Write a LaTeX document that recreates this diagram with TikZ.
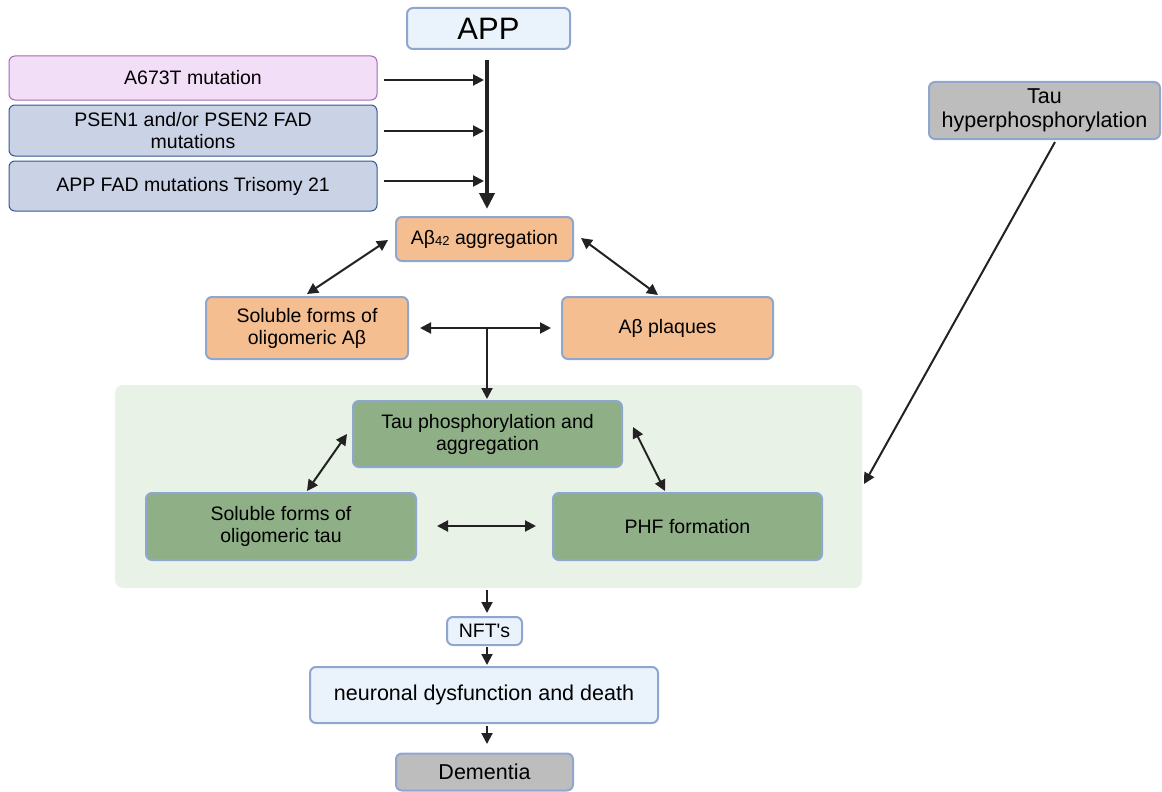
\documentclass[tikz,border=0pt]{standalone}
\usepackage{fontspec}
\setmainfont{Liberation Sans}[Ligatures=TeXOff]
\usetikzlibrary{arrows.meta}
\definecolor{edgeblue}{HTML}{8FA6CF}
\definecolor{appfill}{HTML}{EAF2FB}
\definecolor{pinkfill}{HTML}{F2DFF7}
\definecolor{pinkedge}{HTML}{A569B5}
\definecolor{bluefill}{HTML}{CAD3E6}
\definecolor{bluedge}{HTML}{2F5A8F}
\definecolor{orangefill}{HTML}{F5BE91}
\definecolor{bgreen}{HTML}{E8F2E6}
\definecolor{greenfill}{HTML}{8FB087}
\definecolor{grayfill}{HTML}{BDBDBD}
\definecolor{arr}{HTML}{222222}
\tikzset{
  box/.style={draw=edgeblue, line width=2pt, rounded corners=6pt, align=center, inner sep=0pt, text=black},
  appbox/.style={box, fill=appfill},
  pinkbox/.style={box, fill=pinkfill, draw=pinkedge, line width=1pt},
  bluebox/.style={box, fill=bluefill, draw=bluedge, line width=1pt},
  orbox/.style={box, fill=orangefill},
  grbox/.style={box, fill=greenfill},
  gybox/.style={box, fill=grayfill},
  txt/.style={font=\fontsize{19.5}{22}\selectfont},
  bigtxt/.style={font=\fontsize{21.5}{24}\selectfont},
  con/.style={draw=arr, line width=2pt, -{Triangle[length=11pt,width=11pt]}},
  dcon/.style={draw=arr, line width=2pt, {Triangle[length=11pt,width=11pt]}-{Triangle[length=11pt,width=11pt]}},
  thick arrow/.style={draw=arr, line width=4pt, -{Triangle[length=16pt,width=15pt]}}
}
\begin{document}
\begin{tikzpicture}[x=1pt,y=-1pt]
\useasboundingbox (0,0) rectangle (1162,792);
% background panel
\node[fill=bgreen, rounded corners=8pt, minimum width=747pt, minimum height=203pt, inner sep=0pt] (panel) at (488.5,486.5) {};
% nodes
\node[appbox, minimum width=163pt, minimum height=41pt, font=\fontsize{31}{34}\selectfont] (app) at (488.5,28.5) {APP};
\node[pinkbox, txt, minimum width=368pt, minimum height=44pt] (a673) at (193,78) {A673T mutation};
\node[bluebox, txt, minimum width=368pt, minimum height=51pt] (psen) at (193,130.5) {PSEN1 and/or PSEN2 FAD\\mutations};
\node[bluebox, txt, minimum width=368pt, minimum height=50pt] (appfad) at (193,186) {APP FAD mutations Trisomy 21};
\node[orbox, txt, minimum width=177pt, minimum height=44pt] (agg) at (484.5,239) {Aβ\raisebox{-1.5pt}{\fontsize{13}{13}\selectfont 42} aggregation};
\node[orbox, txt, minimum width=202pt, minimum height=62pt] (solab) at (307,328) {Soluble forms of\\oligomeric Aβ};
\node[orbox, txt, minimum width=211pt, minimum height=62pt] (plaq) at (667.5,328) {Aβ plaques};
\node[grbox, txt, minimum width=269pt, minimum height=66pt] (taup) at (487.5,434) {Tau phosphorylation and\\aggregation};
\node[grbox, txt, minimum width=270pt, minimum height=67pt] (soltau) at (281,526.5) {Soluble forms of\\oligomeric tau};
\node[grbox, txt, minimum width=269pt, minimum height=67pt] (phf) at (687.5,526.5) {PHF formation};
\node[gybox, bigtxt, minimum width=231pt, minimum height=57pt] (hyper) at (1044.5,110.5) {Tau\\hyperphosphorylation};
\node[appbox, txt, minimum width=75pt, minimum height=28pt] (nft) at (484.5,631) {NFT's};
\node[appbox, bigtxt, minimum width=348pt, minimum height=56pt] (neur) at (484,695) {neuronal dysfunction and death};
\node[gybox, bigtxt, minimum width=177pt, minimum height=37pt] (dem) at (484.5,772) {Dementia};
% connector end points
\coordinate (trunkTop) at (487,60);
\coordinate (trunkEnd) at (487,209);
\coordinate (m1) at (484,80);
\coordinate (m2) at (484,131);
\coordinate (m3) at (484,181);
\coordinate (aggL) at (388,240);
\coordinate (solabT) at (307,294);
\coordinate (aggR) at (581,238);
\coordinate (plaqT) at (658,295);
\coordinate (hL) at (420,328);
\coordinate (hR) at (551,328);
\coordinate (hMid) at (487,329);
\coordinate (panelTop) at (487,399);
\coordinate (tpL) at (347,434);
\coordinate (stT) at (307,491);
\coordinate (tpR) at (633,427);
\coordinate (phfT) at (665,491);
\coordinate (tL) at (437,526);
\coordinate (tR) at (536,526);
\coordinate (hyS) at (1055,142);
\coordinate (hyE) at (864,484);
\coordinate (pB) at (487,590);
\coordinate (nT) at (487,613);
\coordinate (nB) at (487,647);
\coordinate (neT) at (487,665);
\coordinate (neB) at (487,726);
\coordinate (deT) at (487,744);
% connectors
\draw[thick arrow] (trunkTop) -- (trunkEnd);
\draw[con] ([xshift=6pt]a673.east |- m1) -- (m1);
\draw[con] ([xshift=6pt]psen.east |- m2) -- (m2);
\draw[con] ([xshift=6pt]appfad.east |- m3) -- (m3);
\draw[dcon] (aggL) -- (solabT);
\draw[dcon] (aggR) -- (plaqT);
\draw[dcon] (hL) -- (hR);
\draw[con] (hMid) -- (panelTop);
\draw[dcon] (tpL) -- (stT);
\draw[dcon] (tpR) -- (phfT);
\draw[dcon] (tL) -- (tR);
\draw[con] (hyS) -- (hyE);
\draw[con] (pB) -- (nT);
\draw[con] (nB) -- (neT);
\draw[con] (neB) -- (deT);
\end{tikzpicture}
\end{document}
